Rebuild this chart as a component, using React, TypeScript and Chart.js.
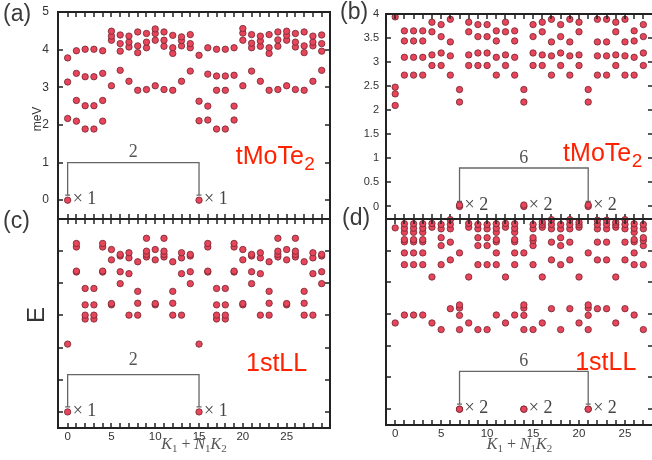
import { useEffect, useRef } from "react";
import { Chart, registerables } from "chart.js";

Chart.register(...registerables);

// Energies at each momentum index k = K1 + N1*K2 (row k lists the levels at that momentum).
// (a) tMoTe2, 30 momenta, in meV
const tmoteLevels30: number[][] = [
  [0, 2.17, 3.14, 3.78],
  [2.1, 2.65, 3.37, 3.97],
  [1.89, 2.51, 3.28, 4.01],
  [1.89, 2.51, 3.28, 4.01],
  [2.1, 2.65, 3.37, 3.97],
  [3.04, 4.25, 4.36, 4.49],
  [3.45, 3.96, 4.16, 4.39],
  [3.16, 4.07, 4.2, 4.36],
  [2.92, 3.92, 4.1, 4.47],
  [2.94, 4.05, 4.2, 4.43],
  [3.04, 4.25, 4.43, 4.55],
  [2.94, 4.09, 4.25, 4.47],
  [2.92, 3.9, 4.05, 4.38],
  [3.16, 4.1, 4.24, 4.34],
  [3.43, 4.05, 4.16, 4.4],
  [0, 2.11, 2.63, 3.85],
  [2.13, 2.5, 3.35, 4.05],
  [1.89, 2.92, 3.3, 4.01],
  [1.89, 2.92, 3.3, 4.01],
  [2.13, 2.5, 3.32, 4.05],
  [3.04, 4.25, 4.44, 4.56],
  [3.43, 4.05, 4.17, 4.4],
  [3.16, 4.09, 4.23, 4.36],
  [2.92, 3.9, 4.05, 4.4],
  [2.94, 4.09, 4.26, 4.47],
  [3.04, 4.25, 4.38, 4.49],
  [2.94, 4.07, 4.2, 4.43],
  [2.92, 3.92, 4.1, 4.47],
  [3.16, 4.1, 4.2, 4.36],
  [3.45, 3.96, 4.16, 4.39],
];

// (b) tMoTe2, 28 momenta, in meV
const tmoteLevels28: number[][] = [
  [2.1, 2.34, 2.48, 3.94],
  [2.73, 3.1, 3.44, 3.65],
  [2.73, 3.1, 3.44, 3.65],
  [2.73, 3.1, 3.44, 3.65],
  [2.93, 3.15, 3.63, 3.83],
  [2.93, 3.19, 3.53, 3.78],
  [2.73, 3.13, 3.42, 3.89],
  [0, 0.03, 2.17, 2.43],
  [2.93, 3.15, 3.63, 3.83],
  [2.93, 3.19, 3.53, 3.78],
  [2.93, 3.19, 3.53, 3.78],
  [2.73, 3.1, 3.44, 3.65],
  [2.93, 3.15, 3.63, 3.83],
  [2.73, 3.1, 3.44, 3.65],
  [0, 0.03, 2.17, 2.43],
  [2.93, 3.19, 3.53, 3.78],
  [2.93, 3.15, 3.63, 3.83],
  [2.73, 3.13, 3.42, 3.89],
  [2.93, 3.19, 3.53, 3.78],
  [2.73, 3.13, 3.42, 3.89],
  [2.93, 3.15, 3.63, 3.83],
  [0, 0.03, 2.17, 2.43],
  [2.73, 3.13, 3.42, 3.89],
  [2.73, 3.13, 3.42, 3.89],
  [2.93, 3.15, 3.63, 3.83],
  [2.73, 3.13, 3.42, 3.89],
  [2.73, 3.1, 3.44, 3.65],
  [2.93, 3.19, 3.53, 3.78],
];

// (c) first Landau level, 30 momenta, arbitrary energy units
const llLevels30: number[][] = [
  [0, 2.11],
  [4.35, 4.38, 5.13, 5.24],
  [2.89, 3.01, 3.33, 3.84],
  [2.89, 3.01, 3.33, 3.84],
  [4.35, 4.38, 5.13, 5.24],
  [3.33, 3.37, 4.73, 5.05],
  [3.99, 4.36, 4.85, 4.9],
  [3.01, 4.3, 4.79, 4.95],
  [3.01, 3.38, 3.75, 4.67],
  [4.82, 4.9, 5.0, 5.4],
  [3.33, 3.37, 4.73, 5.05],
  [4.82, 4.9, 5.0, 5.4],
  [3.01, 3.38, 3.75, 4.67],
  [3.01, 4.3, 4.79, 4.95],
  [3.99, 4.36, 4.85, 4.9],
  [0, 2.11],
  [4.35, 4.38, 5.13, 5.24],
  [2.89, 3.01, 3.33, 3.84],
  [2.89, 3.01, 3.33, 3.84],
  [4.35, 4.38, 5.13, 5.24],
  [3.33, 3.37, 4.73, 5.05],
  [3.99, 4.36, 4.85, 4.9],
  [3.01, 4.3, 4.79, 4.95],
  [3.01, 3.38, 3.75, 4.67],
  [4.82, 4.9, 5.0, 5.4],
  [3.33, 3.37, 4.73, 5.05],
  [4.82, 4.9, 5.0, 5.4],
  [3.01, 3.38, 3.75, 4.67],
  [3.01, 4.3, 4.79, 4.95],
  [3.99, 4.36, 4.85, 4.9],
];

// (d) first Landau level, 28 momenta, arbitrary energy units
const llLevels28: number[][] = [
  [2.72, 5.72],
  [2.97, 4.56, 4.93, 5.28, 5.35, 5.58, 5.71, 5.85],
  [2.97, 4.56, 4.93, 5.28, 5.35, 5.58, 5.71, 5.85],
  [2.97, 4.56, 4.93, 5.28, 5.35, 5.58, 5.71, 5.85],
  [2.72, 4.17, 5.74, 5.86],
  [2.51, 4.56, 5.16, 5.41, 5.69, 5.83],
  [3.17, 4.71, 5.27, 5.69, 5.83, 5.98],
  [0, 0, 2.51, 2.96, 3.19, 3.29, 4.93],
  [2.72, 4.17, 5.74, 5.86],
  [2.51, 4.56, 5.16, 5.41, 5.69, 5.83],
  [2.51, 4.56, 5.16, 5.41, 5.69, 5.83],
  [2.97, 4.56, 4.93, 5.28, 5.35, 5.58, 5.71, 5.85],
  [2.72, 4.17, 5.74, 5.86],
  [2.97, 4.56, 4.93, 5.28, 5.35, 5.58, 5.71, 5.85],
  [0, 0, 2.51, 2.96, 3.19, 3.29, 4.93],
  [2.51, 4.56, 5.16, 5.32, 5.41, 5.69, 5.83],
  [2.72, 4.17, 5.74, 5.82, 5.9],
  [3.17, 4.71, 5.27, 5.69, 5.83, 5.98],
  [2.51, 4.56, 5.16, 5.41, 5.69, 5.83],
  [3.17, 4.71, 5.27, 5.69, 5.83, 5.98],
  [2.72, 4.17, 5.74, 5.82, 5.9],
  [0, 0, 2.51, 2.96, 3.19, 3.29, 4.93],
  [3.17, 4.71, 5.27, 5.69, 5.83, 5.96],
  [3.17, 4.71, 5.27, 5.69, 5.83, 5.96],
  [2.72, 4.17, 5.74, 5.82, 5.9],
  [3.17, 4.71, 5.27, 5.69, 5.83, 5.98],
  [2.97, 4.56, 4.93, 5.28, 5.35, 5.58, 5.71, 5.85],
  [2.51, 4.56, 5.16, 5.32, 5.41, 5.69, 5.83],
];

// Axis ticks
const meVTicks = [0, 1, 2, 3, 4, 5];
const meVTicksFine = [0, 0.5, 1, 1.5, 2, 2.5, 3, 3.5, 4];
const energyTicks = [0, 1, 2, 3, 4, 5, 6];
const momentumTicks = [0, 5, 10, 15, 20, 25];

// Ground-state momenta, their degeneracy and the momentum spacing between them
const groundMomenta30 = [0, 15];
const groundMomenta28 = [7, 14, 21];
const degeneracy30 = "\u00d7 1";
const degeneracy28 = "\u00d7 2";
const spacing30 = "2";
const spacing28 = "6";

const W = 660;
const H = 460;
const SANS = '"Liberation Sans", Arial, Helvetica, sans-serif';
const SERIF = '"Liberation Serif", "Times New Roman", serif';
const TICK = 5;
const AXIS_INK = "#222";

type Panel = {
  letter: string;
  letterX: number;
  letterBase: number;
  frame: { left: number; top: number; right: number; bottom: number };
  levels: number[][];
  xMin: number;
  xMax: number;
  yMin: number;
  yMax: number;
  yTicks: number[];
  yLabelled: boolean;
  yLabelSize: number;
  yLabelPad: number;
  xLabelled: boolean;
  ground: number[];
  degeneracy: string;
  spacing: string;
  bracketTop: number;
  bracketGap: number;
  tag: string;
  tagSub: string;
  tagX: number;
  tagY: number;
  yTitle?: { text: string; x: number; y: number; size: number };
};

const panels: Panel[] = [
  {
    letter: "(a)", letterX: 3, letterBase: 21,
    frame: { left: 58, top: 12, right: 330, bottom: 219 },
    levels: tmoteLevels30, xMin: -1.1, xMax: 29.95, yMin: -0.5, yMax: 5,
    yTicks: meVTicks, yLabelled: true, yLabelSize: 12, yLabelPad: 9, xLabelled: false,
    ground: groundMomenta30, degeneracy: degeneracy30, spacing: spacing30,
    bracketTop: 1.0, bracketGap: 6,
    tag: "tMoTe", tagSub: "2", tagX: 19.19, tagY: 0.95,
    yTitle: { text: "meV", x: 37.5, y: 119, size: 12 },
  },
  {
    letter: "(b)", letterX: 340, letterBase: 19,
    frame: { left: 386, top: 14, right: 653, bottom: 219 },
    levels: tmoteLevels28, xMin: -1.0, xMax: 28.05, yMin: -0.26, yMax: 4,
    yTicks: meVTicksFine, yLabelled: true, yLabelSize: 11, yLabelPad: 7, xLabelled: false,
    ground: groundMomenta28, degeneracy: degeneracy28, spacing: spacing28,
    bracketTop: 0.8, bracketGap: 5,
    tag: "tMoTe", tagSub: "2", tagX: 18.27, tagY: 0.95,
  },
  {
    letter: "(c)", letterX: 3, letterBase: 228,
    frame: { left: 58, top: 219, right: 330, bottom: 428 },
    levels: llLevels30, xMin: -1.1, xMax: 29.95, yMin: -0.5, yMax: 6,
    yTicks: energyTicks, yLabelled: false, yLabelSize: 12, yLabelPad: 9, xLabelled: true,
    ground: groundMomenta30, degeneracy: degeneracy30, spacing: spacing30,
    bracketTop: 1.16, bracketGap: 10,
    tag: "1stLL", tagSub: "", tagX: 20.36, tagY: 1.28,
    yTitle: { text: "E", x: 37.5, y: 315, size: 24 },
  },
  {
    letter: "(d)", letterX: 342, letterBase: 225,
    frame: { left: 386, top: 219, right: 653, bottom: 425 },
    levels: llLevels28, xMin: -1.0, xMax: 28.05, yMin: -0.5, yMax: 6,
    yTicks: energyTicks, yLabelled: false, yLabelSize: 11, yLabelPad: 7, xLabelled: true,
    ground: groundMomenta28, degeneracy: degeneracy28, spacing: spacing28,
    bracketTop: 1.19, bracketGap: 5,
    tag: "1stLL", tagSub: "", tagX: 19.58, tagY: 1.24,
  },
];

const X_AXIS_H = 20;

function makeDecor(p: Panel) {
  const minorX: number[] = [];
  for (let k = 0; k < p.levels.length; k++) minorX.push(k);
  return {
    id: "panelDecor",
    beforeDatasetsDraw(chart: any) {
      const ctx: CanvasRenderingContext2D = chart.ctx;
      const xs = chart.scales.x;
      const ys = chart.scales.y;
      // bracket joining the degenerate ground states
      const first = p.ground[0];
      const last = p.ground[p.ground.length - 1];
      const x0 = xs.getPixelForValue(first);
      const x1 = xs.getPixelForValue(last);
      const yTop = ys.getPixelForValue(p.bracketTop);
      const yBot = ys.getPixelForValue(0) - 5;
      ctx.save();
      ctx.strokeStyle = "#666";
      ctx.lineWidth = 1.3;
      ctx.beginPath();
      ctx.moveTo(x0, yBot);
      ctx.lineTo(x0, yTop);
      ctx.lineTo(x1, yTop);
      ctx.lineTo(x1, yBot);
      ctx.moveTo(x0 - 2.5, yBot);
      ctx.lineTo(x0 + 2.5, yBot);
      ctx.moveTo(x1 - 2.5, yBot);
      ctx.lineTo(x1 + 2.5, yBot);
      ctx.stroke();
      ctx.restore();
    },
    afterDraw(chart: any) {
      const ctx: CanvasRenderingContext2D = chart.ctx;
      const a = chart.chartArea;
      const xs = chart.scales.x;
      const ys = chart.scales.y;
      const L = Math.round(a.left);
      const R = Math.round(a.right);
      const T = Math.round(a.top);
      const B = Math.round(a.bottom);
      ctx.save();
      ctx.globalAlpha = 1;
      ctx.globalCompositeOperation = "source-over";
      ctx.fillStyle = AXIS_INK;
      // frame straddling the plot-area edges
      ctx.fillRect(L - 1, T - 1, R - L + 2, 2);
      ctx.fillRect(L - 1, B - 1, R - L + 2, 2);
      ctx.fillRect(L - 1, T - 1, 2, B - T + 2);
      ctx.fillRect(R - 1, T - 1, 2, B - T + 2);
      // inward ticks along the top and bottom edges, one per momentum
      for (const v of minorX) {
        const px = Math.round(xs.getPixelForValue(v));
        ctx.fillRect(px - 0.75, B - TICK, 1.5, TICK);
        ctx.fillRect(px - 0.75, T, 1.5, TICK);
      }
      // inward ticks along the left and right edges
      for (const v of p.yTicks) {
        const py = Math.round(ys.getPixelForValue(v));
        ctx.fillRect(L, py - 0.75, TICK, 1.5);
        ctx.fillRect(R - TICK, py - 0.75, TICK, 1.5);
      }

      // panel letter
      ctx.fillStyle = "#3a3a3a";
      ctx.font = `23px ${SANS}`;
      ctx.textAlign = "left";
      ctx.textBaseline = "alphabetic";
      ctx.fillText(p.letter, p.letterX, p.letterBase);

      // spacing label above the bracket
      const first = p.ground[0];
      const last = p.ground[p.ground.length - 1];
      const xc = (xs.getPixelForValue(first) + xs.getPixelForValue(last)) / 2;
      const yTop = ys.getPixelForValue(p.bracketTop);
      ctx.fillStyle = "#555";
      ctx.font = `18px ${SERIF}`;
      ctx.textAlign = "center";
      ctx.fillText(p.spacing, xc, yTop - p.bracketGap);

      // degeneracy next to each ground state
      ctx.fillStyle = "#444";
      ctx.textAlign = "left";
      ctx.textBaseline = "middle";
      const y0 = ys.getPixelForValue(0);
      for (const k of p.ground) {
        ctx.fillText(p.degeneracy, xs.getPixelForValue(k) + 5, y0 - 1);
      }

      // system tag
      ctx.fillStyle = "#ff2200";
      ctx.textBaseline = "alphabetic";
      ctx.font = `25px ${SANS}`;
      const tx = xs.getPixelForValue(p.tagX);
      const ty = ys.getPixelForValue(p.tagY);
      ctx.fillText(p.tag, tx, ty);
      if (p.tagSub) {
        const w = ctx.measureText(p.tag).width;
        ctx.font = `19px ${SANS}`;
        ctx.fillText(p.tagSub, tx + w + 0.5, ty + 6);
      }

      // vertical axis title
      if (p.yTitle) {
        ctx.save();
        ctx.translate(p.yTitle.x, p.yTitle.y);
        ctx.rotate(-Math.PI / 2);
        ctx.fillStyle = "#333";
        ctx.font = `${p.yTitle.size}px ${SANS}`;
        ctx.textAlign = "center";
        ctx.textBaseline = "middle";
        ctx.fillText(p.yTitle.text, 0, 0);
        ctx.restore();
      }

      // horizontal axis title K1 + N1 K2
      if (p.xLabelled) {
        const parts: { t: string; sub: boolean; italic: boolean }[] = [
          { t: "K", sub: false, italic: true },
          { t: "1", sub: true, italic: false },
          { t: " + ", sub: false, italic: false },
          { t: "N", sub: false, italic: true },
          { t: "1", sub: true, italic: false },
          { t: "K", sub: false, italic: true },
          { t: "2", sub: true, italic: false },
        ];
        const fontFor = (q: { sub: boolean; italic: boolean }) =>
          `${q.italic ? "italic " : ""}${q.sub ? 11 : 16}px ${SERIF}`;
        let total = 0;
        for (const q of parts) {
          ctx.font = fontFor(q);
          total += ctx.measureText(q.t).width;
        }
        let cx = (a.left + a.right) / 2 - total / 2;
        const base = 449;
        ctx.fillStyle = "#555";
        ctx.textAlign = "left";
        ctx.textBaseline = "alphabetic";
        for (const q of parts) {
          ctx.font = fontFor(q);
          ctx.fillText(q.t, cx, q.sub ? base + 3 : base);
          cx += ctx.measureText(q.t).width;
        }
      }
      ctx.restore();
    },
  };
}

function buildConfig(p: Panel): any {
  const points = p.levels.flatMap((row, k) => row.map((e) => ({ x: k, y: e })));
  const xH = p.xLabelled ? X_AXIS_H : 0;
  const zeroPad = (s: any) => {
    s.paddingLeft = 0;
    s.paddingRight = 0;
    s.paddingTop = 0;
    s.paddingBottom = 0;
  };
  return {
    type: "scatter",
    data: {
      datasets: [
        {
          data: points,
          pointRadius: 3.2,
          pointBackgroundColor: "#e8455b",
          pointBorderColor: "#6e2630",
          pointBorderWidth: 0.8,
          showLine: false,
          clip: false,
        },
      ],
    },
    options: {
      animation: false,
      responsive: false,
      events: [],
      layout: {
        padding: {
          left: 0,
          top: p.frame.top,
          right: W - p.frame.right,
          bottom: H - p.frame.bottom - xH,
        },
      },
      plugins: { legend: { display: false }, tooltip: { enabled: false } },
      scales: {
        x: {
          type: "linear",
          position: "bottom",
          min: p.xMin,
          max: p.xMax,
          grid: { display: false, drawTicks: false },
          border: { display: false },
          afterBuildTicks: (s: any) => {
            s.ticks = momentumTicks.map((v) => ({ value: v }));
          },
          afterFit: (s: any) => {
            s.height = xH;
            zeroPad(s);
          },
          ticks: {
            display: p.xLabelled,
            autoSkip: false,
            maxRotation: 0,
            padding: 2,
            color: "#333",
            font: { family: SANS, size: 11.5 },
            callback: (v: number) => String(v),
          },
        },
        y: {
          type: "linear",
          position: "left",
          min: p.yMin,
          max: p.yMax,
          grid: { display: false, drawTicks: false },
          border: { display: false },
          afterBuildTicks: (s: any) => {
            s.ticks = p.yTicks.map((v) => ({ value: v }));
          },
          afterFit: (s: any) => {
            s.width = p.frame.left;
            zeroPad(s);
          },
          ticks: {
            display: p.yLabelled,
            autoSkip: false,
            padding: p.yLabelPad,
            color: "#333",
            font: { family: SANS, size: p.yLabelSize },
            callback: (v: number) => String(v),
          },
        },
      },
    },
    plugins: [makeDecor(p)],
  };
}

function PanelChart({ panel }: { panel: Panel }) {
  const ref = useRef<HTMLCanvasElement>(null);
  useEffect(() => {
    const chart = new Chart(ref.current as HTMLCanvasElement, buildConfig(panel));
    return () => chart.destroy();
  }, [panel]);
  return (
    <canvas
      ref={ref}
      width={W}
      height={H}
      style={{ position: "absolute", left: 0, top: 0, width: W, height: H }}
    />
  );
}

export default function App() {
  return (
    <div
      style={{
        position: "fixed",
        left: 0,
        top: 0,
        width: 652,
        height: 460,
        overflow: "hidden",
        background: "#fff",
      }}
    >
      {panels.map((p) => (
        <PanelChart key={p.letter} panel={p} />
      ))}
    </div>
  );
}
